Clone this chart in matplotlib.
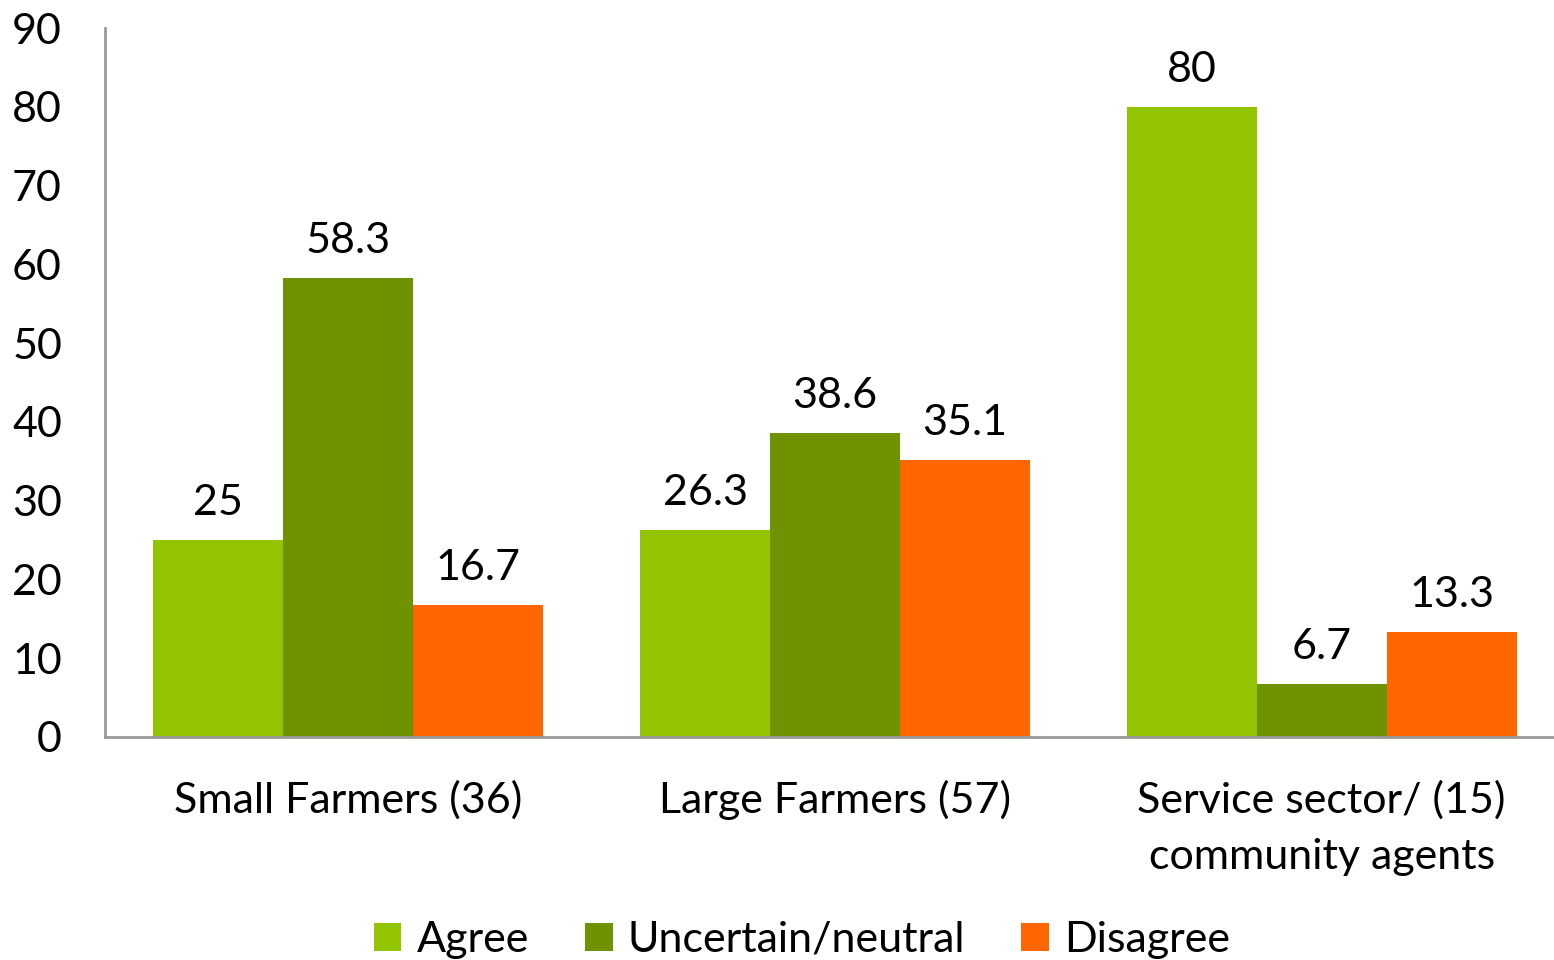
import matplotlib.pyplot as plt
import numpy as np

categories = ["Small Farmers (36)", "Large Farmers (57)", "Service sector/ (15)\ncommunity agents"]
series = ["Agree", "Uncertain/neutral", "Disagree"]
agree = [25, 26.3, 80]
neutral = [58.3, 38.6, 6.7]
disagree = [16.7, 35.1, 13.3]
yticks = [0, 10, 20, 30, 40, 50, 60, 70, 80, 90]

colors = ["#92C500", "#6F9300", "#FF6600"]

plt.rcParams['font.family'] = ['Lato', 'DejaVu Sans']

fig = plt.figure(figsize=(15.54, 9.6), dpi=100)
ax = fig.add_axes([105 / 1554, 223 / 960, 1460 / 1554, 709 / 960])

x = np.arange(len(categories))
w = 0.267
for i, (name, vals) in enumerate(zip(series, [agree, neutral, disagree])):
    bars = ax.bar(x + (i - 1) * w, vals, w, color=colors[i], label=name)
    for b, v in zip(bars, vals):
        ax.annotate("{:g}".format(v), (b.get_x() + b.get_width() / 2, v),
                    xytext=(0, 13), textcoords="offset points",
                    ha="center", va="bottom", fontsize=31)

ax.set_xlim(-0.5, 2.5)
ax.set_ylim(0, 90)
ax.set_yticks(yticks)
ax.set_xticks(x)
ax.set_xticklabels(categories, fontsize=31, linespacing=1.6)
ax.tick_params(axis="y", labelsize=31, length=0, pad=31)
ax.tick_params(axis="x", length=0, pad=31)
for lbl in ax.get_yticklabels():
    lbl.set_horizontalalignment("right")
for s in ["top", "right"]:
    ax.spines[s].set_visible(False)
for s in ["left", "bottom"]:
    ax.spines[s].set_color("#999999")
    ax.spines[s].set_linewidth(2)

fig.legend(loc="center", bbox_to_anchor=(802 / 1554, 20 / 960), ncol=3,
           frameon=False, fontsize=31, handlelength=0.65, handleheight=0.65,
           handletextpad=0.35, columnspacing=1.3)

fig.savefig("out.png", dpi=100)
